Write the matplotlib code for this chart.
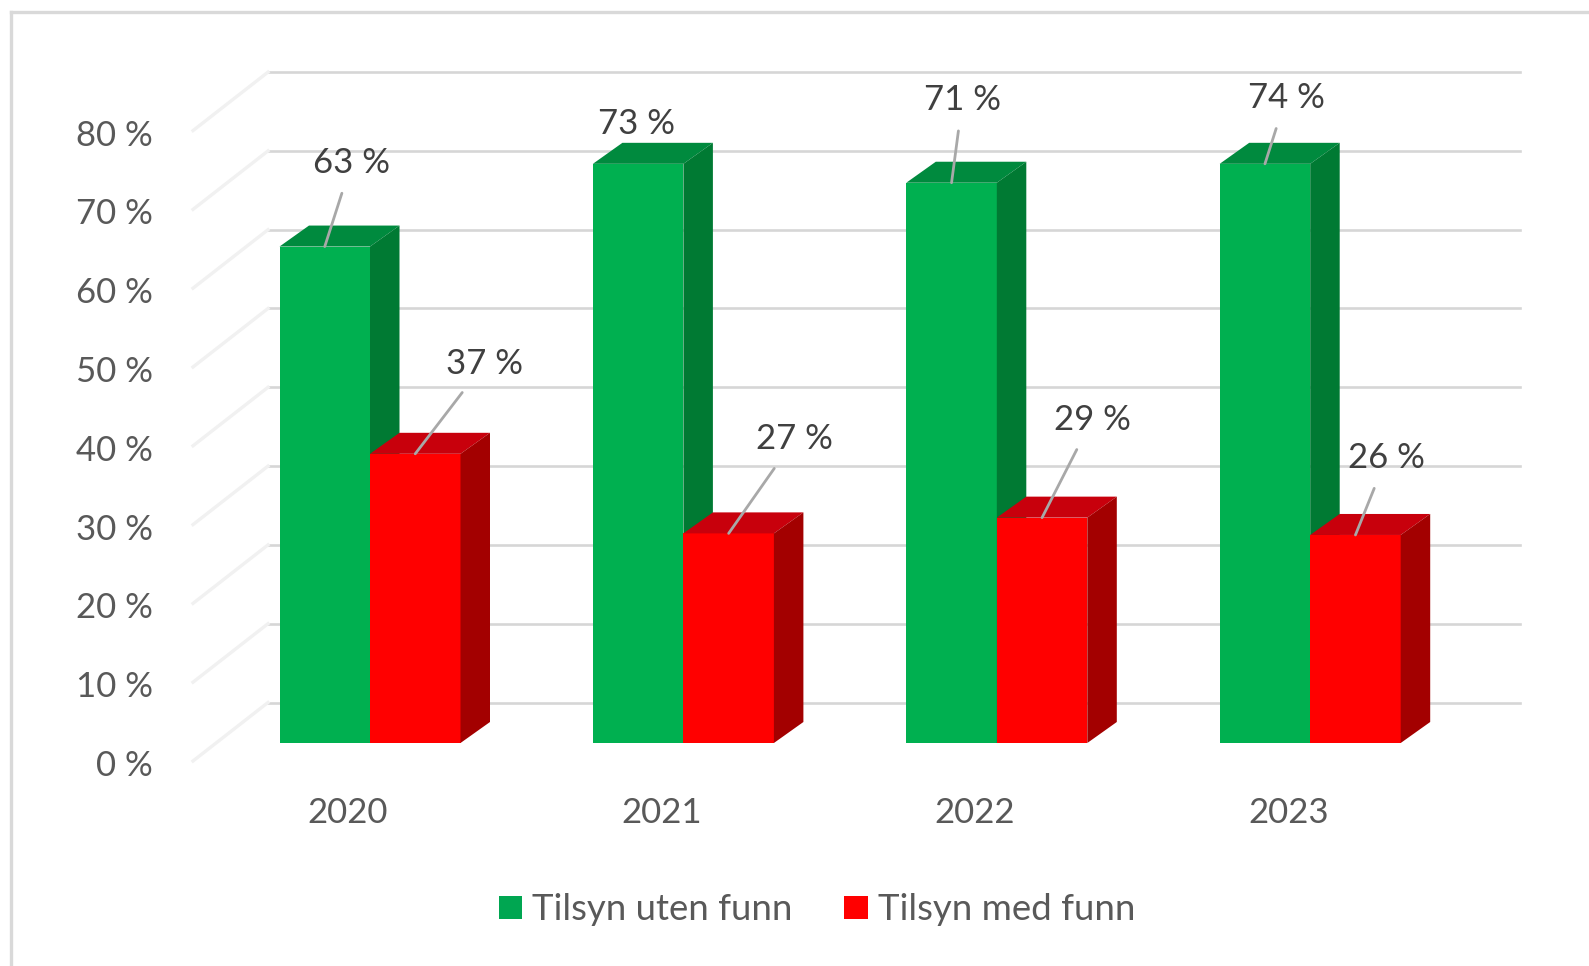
import matplotlib
import matplotlib.pyplot as plt
import matplotlib.transforms as mtransforms
from matplotlib.lines import Line2D
from matplotlib.patches import Patch, Polygon

matplotlib.use("Agg")

# data
years = ["2020", "2021", "2022", "2023"]
# bar heights, the printed labels are rounded
uten_funn = [63, 73.5, 71.1, 73.5]
med_funn = [36.7, 26.6, 28.6, 26.4]
uten_labels = ["63 %", "73 %", "71 %", "74 %"]
med_labels = ["37 %", "27 %", "29 %", "26 %"]
series_names = ["Tilsyn uten funn", "Tilsyn med funn"]
pct_ticks = [0, 10, 20, 30, 40, 50, 60, 70, 80]

# label offsets from the bar top, in pixels (same order as the values)
uten_label_offset = [(27, 84), (-2, 40), (11, 83), (21, 66)]
med_label_offset = [(69, 90), (66, 94), (50, 98), (31, 77)]
uten_leader = [True, False, True, True]
med_leader = [True, True, True, True]

W, H = 1589, 966
DPI = 100

# pixel layout of the picture
PX_PER_PCT = 7.88
BASE_PX = 743
SPLIT_PX = 370
GROUP_PX = 313.4
AX_LEFT, AX_RIGHT = 160, 1530
AX_TOP_PCT = 90

BAR_W = 90.5 / GROUP_PX
DEPTH_X = 29.5 / GROUP_PX
DEPTH_Y = 21 / PX_PER_PCT
WALL_X0 = (193 - SPLIT_PX) / GROUP_PX
WALL_X1 = (268 - SPLIT_PX) / GROUP_PX
GRID_X1 = (1520 - SPLIT_PX) / GROUP_PX
WALL_Y0 = -18 / PX_PER_PCT
WALL_Y1 = 40.5 / PX_PER_PCT

GREY_TEXT = "#595959"
GRID = "#d6d6d6"

plt.rcParams["font.family"] = ["Lato", "DejaVu Sans"]

fig = plt.figure(figsize=(W / DPI, H / DPI), dpi=DPI, facecolor="white")
top_px = BASE_PX - AX_TOP_PCT * PX_PER_PCT
ax = fig.add_axes([
    AX_LEFT / W,
    1 - BASE_PX / H,
    (AX_RIGHT - AX_LEFT) / W,
    (BASE_PX - top_px) / H,
])
ax.set_xlim((AX_LEFT - SPLIT_PX) / GROUP_PX, (AX_RIGHT - SPLIT_PX) / GROUP_PX)
ax.set_ylim(0, AX_TOP_PCT)
ax.patch.set_alpha(0)
for spine in ax.spines.values():
    spine.set_visible(False)


def draw_bar(c, v, text, front, top, side, off, show):
    # front face is a normal bar, top and side are added for the 3d look
    ax.bar([c], [v], width=BAR_W, color=front, zorder=3, clip_on=False)
    l, r = c - BAR_W / 2, c + BAR_W / 2
    ax.add_patch(Polygon(
        [(l, v), (l + DEPTH_X, v + DEPTH_Y), (r + DEPTH_X, v + DEPTH_Y), (r, v)],
        closed=True, facecolor=top, edgecolor="none", zorder=3, clip_on=False,
    ))
    ax.add_patch(Polygon(
        [(r, 0), (r + DEPTH_X, DEPTH_Y), (r + DEPTH_X, v + DEPTH_Y), (r, v)],
        closed=True, facecolor=side, edgecolor="none", zorder=3, clip_on=False,
    ))
    props = dict(arrowstyle="-", color="#a8a8a8", lw=2, shrinkA=9, shrinkB=0) if show else None
    ax.annotate(
        text, xy=(c, v), xytext=off, textcoords="offset pixels",
        ha="center", va="center", fontsize=25, color="#404040",
        arrowprops=props, zorder=6, annotation_clip=False,
    )


# back wall and side wall lines
for p in pct_ticks:
    ax.plot([WALL_X1, GRID_X1], [p + WALL_Y1, p + WALL_Y1], color=GRID, lw=1.9, zorder=1, clip_on=False)
    ax.plot([WALL_X0, WALL_X1], [p + WALL_Y0, p + WALL_Y1], color="#f1f1f1", lw=2.4, zorder=1, clip_on=False)

# one group at a time so that the red bar covers the side of the green one
for i in range(len(years)):
    draw_bar(i - BAR_W / 2, uten_funn[i], uten_labels[i], "#00b050", "#008a3e", "#007a33",
             uten_label_offset[i], uten_leader[i])
    draw_bar(i + BAR_W / 2, med_funn[i], med_labels[i], "#ff0000", "#c8000c", "#a30000",
             med_label_offset[i], med_leader[i])

ax.set_yticks(pct_ticks)
ax.set_yticklabels([f"{p} %" for p in pct_ticks], fontsize=25, color=GREY_TEXT)
ax.set_xticks(range(len(years)))
ax.set_xticklabels(years, fontsize=25, color=GREY_TEXT)
ax.tick_params(axis="both", length=0)
ax.tick_params(axis="y", pad=5)
ax.tick_params(axis="x", pad=39)

# labels sit lower and further left than the ticks, as in the 3d chart
y_shift = mtransforms.ScaledTranslation(0, -20 / DPI, fig.dpi_scale_trans)
x_shift = mtransforms.ScaledTranslation(-22 / DPI, 0, fig.dpi_scale_trans)
for label in ax.get_yticklabels():
    label.set_transform(label.get_transform() + y_shift)
for label in ax.get_xticklabels():
    label.set_transform(label.get_transform() + x_shift)

handles = [Patch(facecolor="#00a651"), Patch(facecolor="#ff0000")]
fig.legend(
    handles, series_names, ncol=2, frameon=False, fontsize=26.4,
    loc="center", bbox_to_anchor=(817 / W, 1 - 910 / H), labelcolor=GREY_TEXT,
    handlelength=0.64, handleheight=0.55, handletextpad=0.28,
    columnspacing=1.4, borderpad=0, borderaxespad=0,
)

# outer frame, only top and left show in the picture
fig.add_artist(Line2D([11 / W, 1], [1 - 12 / H, 1 - 12 / H], color="#d9d9d9", lw=2.4))
fig.add_artist(Line2D([11 / W, 11 / W], [1 - 12 / H, 0], color="#d9d9d9", lw=2.4))

fig.savefig("out.png", dpi=DPI)
